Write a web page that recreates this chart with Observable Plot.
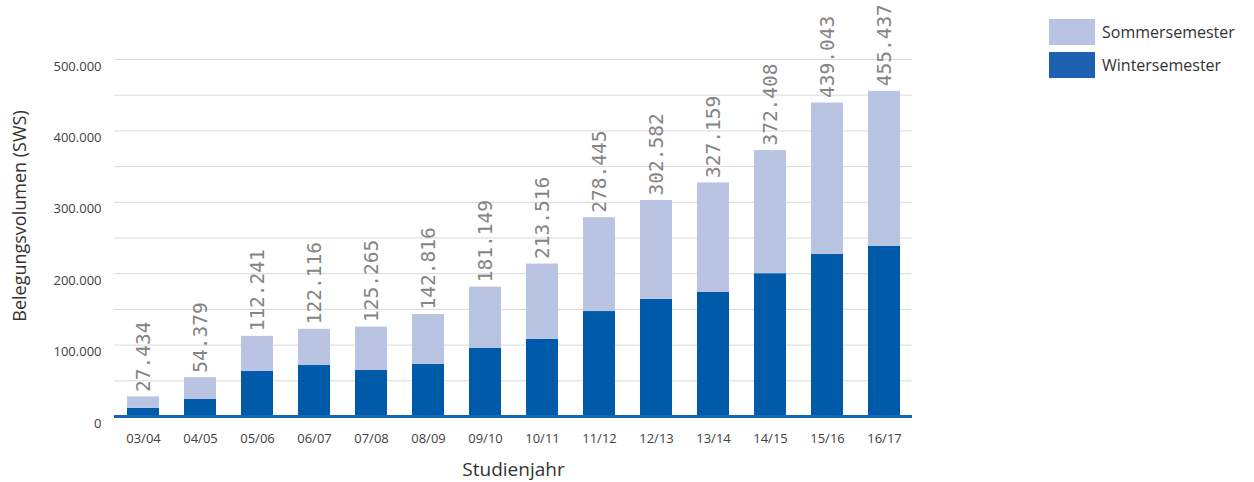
<!DOCTYPE html>
<html>
<head>
<meta charset="utf-8">
<script src="https://cdn.jsdelivr.net/npm/d3@7"></script>
<script src="https://cdn.jsdelivr.net/npm/@observablehq/plot@0.6"></script>
<style>
  html, body { margin: 0; padding: 0; background: #fff; }
  #wrap { position: relative; width: 1254px; height: 482px; font-family: "Open Sans", sans-serif; }
  .legend { position: absolute; left: 1049px; top: 15px; font-size: 16px; color: #333; }
  .item { display: flex; align-items: center; height: 33px; }
  .sw { width: 46px; height: 26px; margin-right: 7px; }
</style>
</head>
<body>
<div id="wrap"></div>
<script>
const years = ["03/04","04/05","05/06","06/07","07/08","08/09","09/10","10/11","11/12","12/13","13/14","14/15","15/16","16/17"];
const totals = [27434, 54379, 112241, 122116, 125265, 142816, 181149, 213516, 278445, 302582, 327159, 372408, 439043, 455437];
const winter = [11500, 23800, 63000, 71400, 64400, 72800, 95700, 108000, 147000, 164000, 173700, 200000, 227000, 238500];
const seriesNames = ["Sommersemester", "Wintersemester"];
const yTicks = [0, 100000, 200000, 300000, 400000, 500000];
const yGrid = [50000, 100000, 150000, 200000, 250000, 300000, 350000, 400000, 450000, 500000];

const colorSommer = "#b9c4e3";
const colorWinter = "#005aaa";
const colorWinterLegend = "#1f61b1";

const de = d3.formatLocale({decimal: ",", thousands: ".", grouping: [3], currency: ["", " €"]});
const fmt = de.format(",d");

const rows = years.map((y, i) => ({year: y, total: totals[i], winter: winter[i]}));

const chart = Plot.plot({
  width: 1254,
  height: 482,
  marginLeft: 114,
  marginRight: 342,
  marginTop: 59,
  marginBottom: 66,
  style: {fontFamily: "'Open Sans', sans-serif", fontSize: "13px", color: "#404040", background: "transparent"},
  x: {domain: years, paddingInner: 0.44, paddingOuter: 0.22},
  y: {domain: [0, 500000]},
  marks: [
    Plot.gridY(yGrid, {stroke: "#d9d9d9", strokeOpacity: 1, strokeWidth: 1}),
    Plot.axisY(yTicks, {tickSize: 0, tickPadding: 13, dy: 7, tickFormat: d => fmt(d), label: null, fill: "#404040"}),
    Plot.axisX({tickSize: 0, tickPadding: 17, label: null, fill: "#404040"}),
    Plot.rectY(rows, {x: "year", y1: 0, y2: "winter", fill: colorWinter}),
    Plot.rectY(rows, {x: "year", y1: "winter", y2: "total", fill: colorSommer}),
    Plot.ruleY([0], {stroke: "#1565b0", strokeWidth: 3}),
    Plot.text(rows, {x: "year", y: "total", text: d => fmt(d.total), rotate: -90, textAnchor: "start", dy: -5,
      fontFamily: "'DejaVu Sans Mono', monospace", fontSize: 19.5, fill: "#858585"}),
    Plot.text(["Belegungsvolumen (SWS)"], {frameAnchor: "left", textAnchor: "middle", lineAnchor: "middle", rotate: -90, dx: -94, dy: -22, fontSize: 18, fill: "#333"}),
    Plot.text(["Studienjahr"], {frameAnchor: "bottom", textAnchor: "middle", lineAnchor: "middle", dy: 53, fontSize: 19, fill: "#333"})
  ]
});

const wrap = document.getElementById("wrap");
wrap.appendChild(chart);

const legend = document.createElement("div");
legend.className = "legend";
const legendColors = [colorSommer, colorWinterLegend];
seriesNames.forEach((name, i) => {
  const item = document.createElement("div");
  item.className = "item";
  const sw = document.createElement("div");
  sw.className = "sw";
  sw.style.background = legendColors[i];
  const label = document.createElement("span");
  label.textContent = name;
  item.appendChild(sw);
  item.appendChild(label);
  legend.appendChild(item);
});
wrap.appendChild(legend);
</script>
</body>
</html>
